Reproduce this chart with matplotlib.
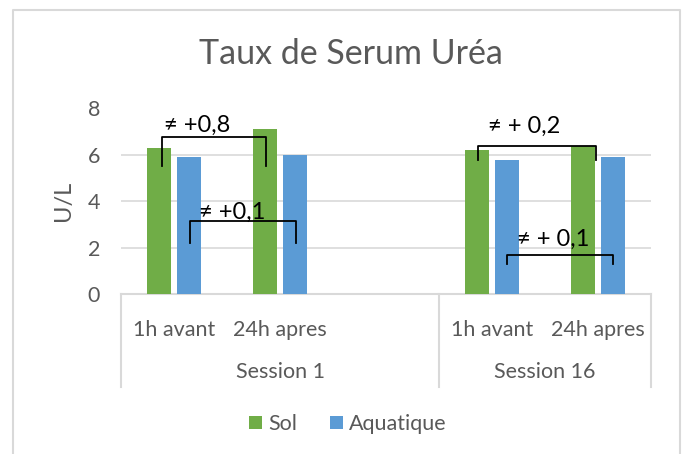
import matplotlib
matplotlib.use("Agg")
import matplotlib.pyplot as plt
from matplotlib.patches import Patch
from matplotlib.lines import Line2D
import numpy as np

# ---- data ----
categories = ["1h avant", "24h apres", "", "1h avant", "24h apres"]
groups = ["Session 1", "Session 16"]
group_spans = [(0, 2), (3, 4)]  # category index ranges for each group
sol = [6.3, 7.1, np.nan, 6.2, 6.4]
aquatique = [5.9, 6.0, np.nan, 5.8, 5.9]
series_names = ["Sol", "Aquatique"]
yticks = [0, 2, 4, 6, 8]
title = "Taux de Serum Uréa"
ylabel = "U/L"

# annotations: (label, x-left, x-right, y-top, y-bottom, text-x, text-y)
annotations = [
    ("≠ +0,8", -0.11, 0.87, 6.75, 5.54, 0.22, 7.27),
    ("≠ +0,1", 0.15, 1.15, 3.13, 2.20, 0.55, 3.50),
    ("≠ + 0,2", 2.87, 3.98, 6.38, 5.76, 3.30, 7.24),
    ("≠ + 0,1", 3.14, 4.14, 1.69, 1.30, 3.58, 2.34),
]

GREEN = "#70AD47"
BLUE = "#5B9BD5"
GRID = "#D9D9D9"
TXT = "#595959"

plt.rcParams["font.family"] = ["Lato", "DejaVu Sans"]

W, H = 686, 454
fig = plt.figure(figsize=(W / 100, H / 100), dpi=100)
x0, x1 = 121, 651
y0, y1 = 294, 108.5
ax = fig.add_axes([x0 / W, 1 - y0 / H, (x1 - x0) / W, (y0 - y1) / H])

x = np.arange(len(categories))
bw = 0.226
off = 0.146
ax.bar(x - off, sol, bw, color=GREEN, zorder=3)
ax.bar(x + off, aquatique, bw, color=BLUE, zorder=3)

ax.set_xlim(-0.5, len(categories) - 0.5)
ax.set_ylim(0, 8)
ax.set_yticks(yticks)
ax.set_yticklabels([str(t) for t in yticks], fontsize=15.5, color=TXT)
ax.tick_params(axis="y", length=0, pad=15)
ax.yaxis.grid(True, color=GRID, linewidth=1.2, zorder=0)
ax.set_axisbelow(True)
for s in ["top", "right", "left"]:
    ax.spines[s].set_visible(False)
ax.spines["bottom"].set_color(GRID)
ax.spines["bottom"].set_linewidth(1.5)

ax.set_xticks(x)
ax.set_xticklabels(categories, fontsize=15.5, color=TXT)
ax.tick_params(axis="x", length=0, pad=19)

# multi-level separators
axh = y0 - y1
sep_bottom = -(387 - y0) / axh
for xs in [-0.5, 2.5, 4.5]:
    ax.plot([xs, xs], [0, sep_bottom], transform=ax.get_xaxis_transform(),
            color=GRID, lw=1.5, clip_on=False)
grp_y = -(372 - y0) / axh
for g, (a, b) in zip(groups, group_spans):
    ax.text((a + b) / 2, grp_y, g, transform=ax.get_xaxis_transform(),
            ha="center", va="center", fontsize=15.5, color=TXT)

ax.set_ylabel(ylabel, fontsize=17, color=TXT, labelpad=10)

fig.text(351 / W, 1 - 54 / H, title, ha="center", va="center",
         fontsize=24.5, color=TXT)

# annotations (brackets)
for lab, xl, xr, yt, yb, tx, ty in annotations:
    ax.plot([xl, xl, xr, xr], [yb, yt, yt, yb], color="black", lw=1.3,
            zorder=5, clip_on=False)
    ax.text(tx, ty, lab, ha="center", va="center", fontsize=17,
            color="black", zorder=6)

# legend
handles = [Patch(facecolor=GREEN), Patch(facecolor=BLUE)]
leg = fig.legend(handles, series_names, loc="center",
                 bbox_to_anchor=(348 / W, 1 - 424 / H), ncol=2, frameon=False,
                 fontsize=15.5, handlelength=0.6, handleheight=0.6,
                 handletextpad=0.3, columnspacing=1.5)
for t in leg.get_texts():
    t.set_color(TXT)

# chart border
bx0, bx1, by0 = 13 / W, 680 / W, 1 - 9.5 / H
fig.add_artist(Line2D([bx0, bx0, bx1, bx1], [0, by0, by0, 0],
                      transform=fig.transFigure, color=GRID, lw=1.5))

fig.savefig("out.png", dpi=100)
